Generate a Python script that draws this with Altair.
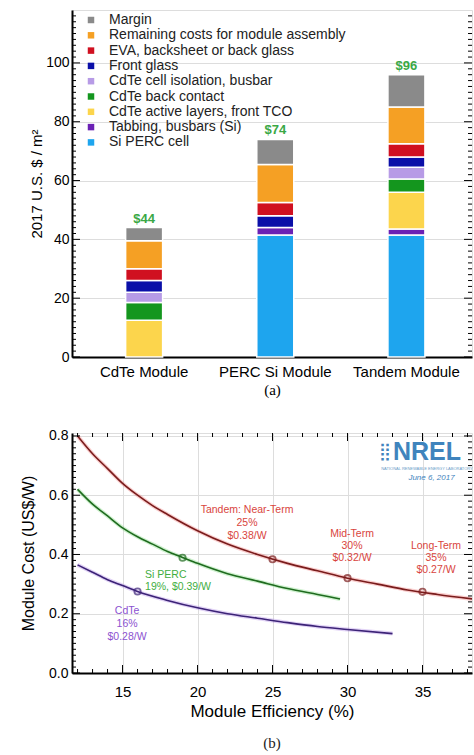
import altair as alt
import pandas as pd

# ---------------- Panel (a): module cost breakdown ----------------
modules = ["CdTe Module", "PERC Si Module", "Tandem Module"]
components = [
    "Si PERC cell",
    "Tabbing, busbars (Si)",
    "CdTe active layers, front TCO",
    "CdTe back contact",
    "CdTe cell isolation, busbar",
    "Front glass",
    "EVA, backsheet or back glass",
    "Remaining costs for module assembly",
    "Margin",
]
component_colors = ["#1ea5ee", "#6b21b5", "#fcd54c", "#14961e", "#b79be6",
                    "#0a0fa8", "#d01020", "#f5a024", "#8a8a8a"]
cdte_costs = [0, 0, 12.5, 6, 3.5, 4, 4, 9.5, 4.5]
perc_costs = [41.5, 2.5, 0, 0, 0, 4, 4.5, 13, 8.5]
tandem_costs = [41.5, 2, 12.5, 4.5, 4, 3.5, 4.5, 12.5, 11]
module_totals = [44, 74, 96]
total_labels = ["$44", "$74", "$96"]

a_y_major = [0, 20, 40, 60, 80, 100]
a_y_minor = [v for v in range(0, 118, 2) if v % 20]

# ---------------- Panel (b): module cost vs efficiency ----------------
tandem_eff = [12, 13, 14, 15, 16, 17, 18, 20, 22, 24, 26, 28, 30, 32, 34, 36, 38.3]
tandem_cost = [0.80, 0.74, 0.69, 0.64, 0.60, 0.565, 0.535, 0.48, 0.435, 0.40,
               0.37, 0.345, 0.32, 0.30, 0.28, 0.265, 0.25]
perc_eff = [12, 13, 14, 15, 16, 17, 18, 19, 20, 22, 24, 26, 28, 29.5]
perc_cost = [0.62, 0.57, 0.53, 0.49, 0.46, 0.435, 0.41, 0.39, 0.37, 0.335,
             0.31, 0.285, 0.265, 0.25]
cdte_eff = [12, 13, 14, 15, 16, 18, 20, 22, 24, 26, 28, 30, 33]
cdte_cost = [0.365, 0.34, 0.315, 0.295, 0.275, 0.245, 0.22, 0.20, 0.185,
             0.17, 0.157, 0.147, 0.133]

point_series = ["Tandem", "Tandem", "Tandem", "Si PERC", "CdTe"]
point_eff = [25, 30, 35, 19, 16]
point_cost = [0.384, 0.32, 0.274, 0.389, 0.275]

series_names = ["Tandem", "Si PERC", "CdTe"]
line_colors = ["#7a1c1c", "#1f6b1f", "#3c2377"]
glow_colors = ["#f06060", "#60d060", "#a070e0"]
note_colors = ["#d9453d", "#3fae3f", "#8c52d0"]

note_series = ["Tandem"] * 9 + ["Si PERC"] * 2 + ["CdTe"] * 3
note_text = ["Tandem: Near-Term", "25%", "$0.38/W",
             "Mid-Term", "30%", "$0.32/W",
             "Long-Term", "35%", "$0.27/W",
             "Si PERC", "19%, $0.39/W",
             "CdTe", "16%", "$0.28/W"]
note_x = [23.3, 23.3, 23.3, 30.3, 30.3, 30.3, 35.9, 35.9, 35.9,
          16.5, 16.5, 15.3, 15.3, 15.3]
note_y = [0.551, 0.507, 0.463, 0.470, 0.429, 0.389, 0.429, 0.389, 0.348,
          0.331, 0.291, 0.209, 0.166, 0.122]
note_align = ["center"] * 9 + ["left"] * 2 + ["center"] * 3

b_x_major = [15, 20, 25, 30, 35]
b_x_minor = [v for v in range(12, 39) if v % 5]
b_y_major = [0.0, 0.2, 0.4, 0.6, 0.8]
b_y_minor = [round(i * 0.02, 2) for i in range(41) if i % 10]

FONT = "Liberation Sans"
TXT = "#222222"

# ---------------- build panel (a) ----------------
rows = []
for mod, vals in zip(modules, [cdte_costs, perc_costs, tandem_costs]):
    for i, (comp, v) in enumerate(zip(components, vals)):
        if v > 0:
            rows.append({"module": mod, "component": comp, "cost": v, "order": i})
bars_df = pd.DataFrame(rows)
tot_df = pd.DataFrame({"module": modules, "total": module_totals, "label": total_labels})

W1, H1 = 400, 347
ydom_a = [0, 118]

axis_xa = alt.Axis(title="(a)", titleFont="Liberation Serif", titleFontSize=15,
                   titleFontWeight="normal", titlePadding=3,
                   labelAngle=0, labelFontSize=15, labelPadding=7, ticks=False,
                   domainWidth=2, domainColor="black")
axis_ya = alt.Axis(title="2017 U.S. $ / m²", titleFontSize=15,
                   titleFontWeight="normal", titlePadding=1,
                   values=a_y_major, labelFontSize=14, labelPadding=3,
                   ticks=False, domainWidth=2, domainColor="black")
scale_xa = alt.Scale(paddingInner=0, paddingOuter=0.025, align=1)
scale_ya = alt.Scale(domain=ydom_a, nice=False, zero=True)

bars = alt.Chart(bars_df).mark_bar(size=37, stroke="white", strokeWidth=1.5).encode(
    x=alt.X("module:N", sort=modules, scale=scale_xa, axis=axis_xa),
    y=alt.Y("cost:Q", stack="zero", scale=scale_ya, axis=axis_ya),
    color=alt.Color("component:N",
                    scale=alt.Scale(domain=components[::-1], range=component_colors[::-1]),
                    legend=alt.Legend(orient="none", legendX=12, legendY=3, title=None,
                                      symbolType="square", symbolSize=42, symbolStrokeWidth=0,
                                      labelFontSize=14, labelFont=FONT, labelColor=TXT,
                                      labelLimit=500, labelOffset=11, rowPadding=1.3)),
    order=alt.Order("order:Q", sort="ascending"),
)

totals = alt.Chart(tot_df).mark_text(color="#3aa845", fontSize=13, fontWeight="bold",
                                     baseline="bottom", dy=-2, font=FONT).encode(
    x=alt.X("module:N", sort=modules, scale=scale_xa, axis=axis_xa),
    y=alt.Y("total:Q", scale=scale_ya, axis=axis_ya), text="label:N")

tick_a_major = pd.DataFrame({"v": a_y_major})
tick_a_minor = pd.DataFrame({"v": a_y_minor})
def yrule_a(df, x0, x1):
    return alt.Chart(df).mark_rule(color="black", strokeWidth=1).encode(
        y=alt.Y("v:Q", scale=scale_ya, axis=axis_ya), x=alt.value(x0), x2=alt.value(x1))

panel_a = alt.layer(
    bars, totals,
    yrule_a(tick_a_major, 0, 8), yrule_a(tick_a_minor, 0, 4),
    yrule_a(tick_a_major, W1, W1 - 8), yrule_a(tick_a_minor, W1, W1 - 4),
).properties(width=W1, height=H1)

# ---------------- build panel (b) ----------------
line_df = pd.concat([
    pd.DataFrame({"eff": tandem_eff, "cost": tandem_cost, "series": "Tandem"}),
    pd.DataFrame({"eff": perc_eff, "cost": perc_cost, "series": "Si PERC"}),
    pd.DataFrame({"eff": cdte_eff, "cost": cdte_cost, "series": "CdTe"}),
], ignore_index=True)
pt_df = pd.DataFrame({"eff": point_eff, "cost": point_cost, "series": point_series})
note_df = pd.DataFrame({"x": note_x, "y": note_y, "text": note_text,
                        "series": note_series, "align": note_align})

W2, H2 = 400, 240
scale_xb = alt.Scale(domain=[11.63, 38.3], nice=False, zero=False)
scale_yb = alt.Scale(domain=[0, 0.81], nice=False, zero=True)
axis_xb = alt.Axis(title="Module Efficiency (%)", titleFontSize=17, titleFontWeight="normal",
                   titlePadding=4, values=b_x_major, labelFontSize=15, labelPadding=11,
                   ticks=False, domainWidth=2, domainColor="black")
axis_yb = alt.Axis(title="Module Cost (US$/W)", titleFontSize=16, titleFontWeight="normal",
                   titlePadding=12, values=b_y_major, format=".1f", labelFontSize=14,
                   labelPadding=4, ticks=False, domainWidth=2, domainColor="black")

def XB(f):
    return alt.X(f, scale=scale_xb, axis=axis_xb)
def YB(f):
    return alt.Y(f, scale=scale_yb, axis=axis_yb)

glow = alt.Chart(line_df).mark_line(strokeWidth=4, opacity=0.3, interpolate="monotone", clip=True).encode(
    x=XB("eff:Q"), y=YB("cost:Q"),
    color=alt.Color("series:N", scale=alt.Scale(domain=series_names, range=glow_colors), legend=None))
lines = alt.Chart(line_df).mark_line(strokeWidth=1.6, interpolate="monotone", clip=True).encode(
    x=XB("eff:Q"), y=YB("cost:Q"),
    stroke=alt.Stroke("series:N", scale=alt.Scale(domain=series_names, range=line_colors), legend=None))
pts = alt.Chart(pt_df).mark_point(shape="circle", filled=False, size=40, strokeWidth=1.8).encode(
    x=XB("eff:Q"), y=YB("cost:Q"),
    stroke=alt.Stroke("series:N", scale=alt.Scale(domain=series_names, range=line_colors), legend=None))

def notes(align):
    return alt.Chart(note_df[note_df["align"] == align]).mark_text(fontSize=10.5, font=FONT, align=align).encode(
        x=XB("x:Q"), y=YB("y:Q"), text="text:N",
        fill=alt.Fill("series:N", scale=alt.Scale(domain=series_names, range=note_colors), legend=None))

logo_df = pd.DataFrame({"x": [35.3, 35.3, 35.6], "y": [0.745, 0.69, 0.658],
                        "text": ["NREL", "NATIONAL RENEWABLE ENERGY LABORATORY", "June 6, 2017"],
                        "kind": ["big", "tiny", "date"]})
logo_big = alt.Chart(logo_df[logo_df.kind == "big"]).mark_text(
    fontSize=25, fontWeight="bold", font=FONT, color="#3f84bd").encode(x=XB("x:Q"), y=YB("y:Q"), text="text:N")
logo_tiny = alt.Chart(logo_df[logo_df.kind == "tiny"]).mark_text(
    fontSize=4, font=FONT, color="#6a9cc8").encode(x=XB("x:Q"), y=YB("y:Q"), text="text:N")
logo_date = alt.Chart(logo_df[logo_df.kind == "date"]).mark_text(
    fontSize=8, fontStyle="italic", font=FONT, color="#3f84bd").encode(x=XB("x:Q"), y=YB("y:Q"), text="text:N")
logo_icon = alt.Chart(logo_df[logo_df.kind == "big"]).mark_text(
    fontSize=17, font="DejaVu Sans", color="#3f84bd", dx=-42).encode(
    x=XB("x:Q"), y=YB("y:Q"), text=alt.value("⣿"))

# panel caption "(b)" below the x-axis title
caption_b = alt.Chart(pd.DataFrame({"t": ["(b)"]})).mark_text(
    font="Liberation Serif", fontSize=15, color=TXT, baseline="middle").encode(
    x=alt.value(W2 / 2), y=alt.value(H2 + 70), text="t:N")

tbx_major = pd.DataFrame({"v": b_x_major})
tbx_minor = pd.DataFrame({"v": b_x_minor})
tby_major = pd.DataFrame({"v": b_y_major})
tby_minor = pd.DataFrame({"v": b_y_minor})
def xrule_b(df, y0, y1):
    return alt.Chart(df).mark_rule(color="black").encode(x=XB("v:Q"), y=alt.value(y0), y2=alt.value(y1))
def yrule_b(df, x0, x1):
    return alt.Chart(df).mark_rule(color="black").encode(y=YB("v:Q"), x=alt.value(x0), x2=alt.value(x1))

tb = [
    xrule_b(tbx_major, H2, H2 - 8), xrule_b(tbx_minor, H2, H2 - 4),
    xrule_b(tbx_major, 0, 8), xrule_b(tbx_minor, 0, 4),
    yrule_b(tby_major, 0, 8), yrule_b(tby_minor, 0, 4),
    yrule_b(tby_major, W2, W2 - 8), yrule_b(tby_minor, W2, W2 - 4),
]

panel_b = alt.layer(glow, lines, pts, notes("center"), notes("left"),
                    logo_big, logo_tiny, logo_date, logo_icon, caption_b, *tb).resolve_scale(
    color="independent", stroke="independent", fill="independent").properties(
    width=W2, height=H2)

chart = alt.concat(panel_a, panel_b, columns=1, spacing=30).properties(
    padding={"left": 20, "top": 9, "right": 0, "bottom": 0}
).configure_view(stroke="black", strokeWidth=1).configure_axis(
    grid=False, labelFont=FONT, titleFont=FONT, labelColor=TXT, titleColor=TXT
).configure(background="white")

chart.save("out.html", embed_options={"renderer": "svg", "actions": False})
